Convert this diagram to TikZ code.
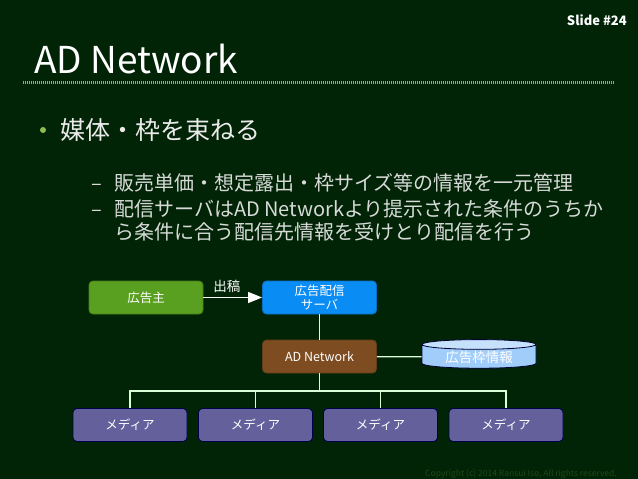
\documentclass[tikz,border=0pt]{standalone}
\usepackage{fontspec}
\setmainfont{Noto Sans CJK JP}
\usepackage{tikz}
\usetikzlibrary{positioning, arrows.meta, shapes.geometric}
\definecolor{slidebg}{RGB}{1,36,6}
\definecolor{rulegreen}{RGB}{150,185,50}
\definecolor{dotgreen}{RGB}{140,190,80}
\definecolor{subgrey}{RGB}{215,218,215}
\definecolor{advgreen}{RGB}{90,160,32}
\definecolor{srvblue}{RGB}{10,140,245}
\definecolor{netbrown}{RGB}{125,76,32}
\definecolor{mediapurple}{RGB}{100,96,155}
\definecolor{dbblue}{RGB}{160,205,250}
\definecolor{copygreen}{RGB}{32,72,22}

\begin{document}
\begin{tikzpicture}[x=1pt, y=-1pt,
  box/.style={draw, rounded corners=4pt, line width=0.8pt,
              minimum width=114pt, minimum height=33pt,
              text=white, align=center, inner sep=1pt,
              font=\fontsize{12.5}{13.5}\selectfont},
  slotdb/.style={cylinder, shape border rotate=90, aspect=0.14, draw=black!80!blue,
                 line width=0.8pt, cylinder uses custom fill,
                 cylinder body fill=dbblue, cylinder end fill=dbblue!60!white,
                 minimum width=114pt, minimum height=24pt, inner sep=1pt, text=white,
                 font=\fontsize{13.5}{14}\selectfont},
  conn/.style={draw=white!85!green, line width=1.2pt},
  arr/.style={-{Triangle[length=14pt, width=11pt]}, draw=white, fill=white, line width=1.2pt},
  lbl/.style={font=\fontsize{13.5}{14}\selectfont, text=white, inner sep=1pt},
  subtxt/.style={anchor=west, inner sep=0pt, text=subgrey,
                 font=\fontsize{20}{23}\selectfont, align=left}
]
  %% Slide background and bounding box
  \fill[slidebg] (0,0) rectangle (638,479);
  \useasboundingbox (0,0) rectangle (638,479);

  %% Header
  \node[anchor=base east, inner sep=0pt, text=white, font=\fontsize{13}{14}\selectfont\bfseries]
    (slideno) at (627,26) {Slide \#24};
  \node[anchor=base west, inner sep=0pt, text=white, font=\fontsize{37}{40}\selectfont]
    (title) at (34,73) {AD Network};
  \coordinate (rulestart) at (23,82);
  \coordinate (ruleend) at (614,82);
  \draw[rulegreen, line width=3pt, dash pattern=on 1pt off 1pt] (rulestart) -- (ruleend);

  %% Bullets
  \fill[dotgreen] (43,130) circle (3pt);
  \node[anchor=west, inner sep=0pt, text=white!92!black, font=\fontsize{25}{27}\selectfont]
    (topic) at (60,130) {媒体・枠を束ねる};
  \node[subtxt] (itema) at (114,183) {販売単価・想定露出・枠サイズ等の情報を一元管理};
  \node[subtxt] (itemb) at (114,220.5)
    {配信サーバはAD Networkより提示された条件のうちか\\ら条件に合う配信先情報を受けとり配信を行う};
  \node[subtxt, anchor=base west] (dasha) at ([xshift=-23pt]itema.base west) {–};
  \node[subtxt, anchor=base west] (dashb) at ([yshift=-26pt]dasha.base west) {–};

  %% Diagram: advertiser, server, network, slot data
  \node[box, fill=advgreen, draw=advgreen!80!black] (advertiser) at (146,297.5) {広告主};
  \node[box, fill=srvblue, draw=srvblue!80!black] (server) at (319.5,297.5) {広告配信\\サーバ};
  \node[box, fill=netbrown, draw=netbrown!80!black] (adnet) at (319.5,356.5) {AD Network};
  \node[slotdb] (slotinfo) at (479,357) {広告枠情報};

  %% Media row
  \node[box, fill=mediapurple, draw=blue!30!black] (mediaa) at (130,425) {メディア};
  \node[box, fill=mediapurple, draw=blue!30!black] (mediab) at (255.5,425) {メディア};
  \node[box, fill=mediapurple, draw=blue!30!black] (mediac) at (380.5,425) {メディア};
  \node[box, fill=mediapurple, draw=blue!30!black] (mediad) at (506,425) {メディア};

  %% Connectors
  \draw[arr] (advertiser) -- node[lbl, above=3pt, pos=0.4]{出稿} (server);
  \draw[conn] (server) -- (adnet);
  \draw[conn] (adnet) -- (slotinfo);
  \coordinate (hub) at (319.5,391);
  \draw[conn] (adnet) -- (hub);
  \draw[conn] (hub) -| (mediaa);
  \draw[conn] (hub) -| (mediab);
  \draw[conn] (hub) -| (mediac);
  \draw[conn] (hub) -| (mediad);

  %% Footer
  \node[anchor=base east, inner sep=0pt, text=copygreen, font=\fontsize{8.5}{9}\selectfont]
    (copyright) at (617,476) {Copyright (c) 2014 Ransui Iso, All rights reserved.};
\end{tikzpicture}
\end{document}
